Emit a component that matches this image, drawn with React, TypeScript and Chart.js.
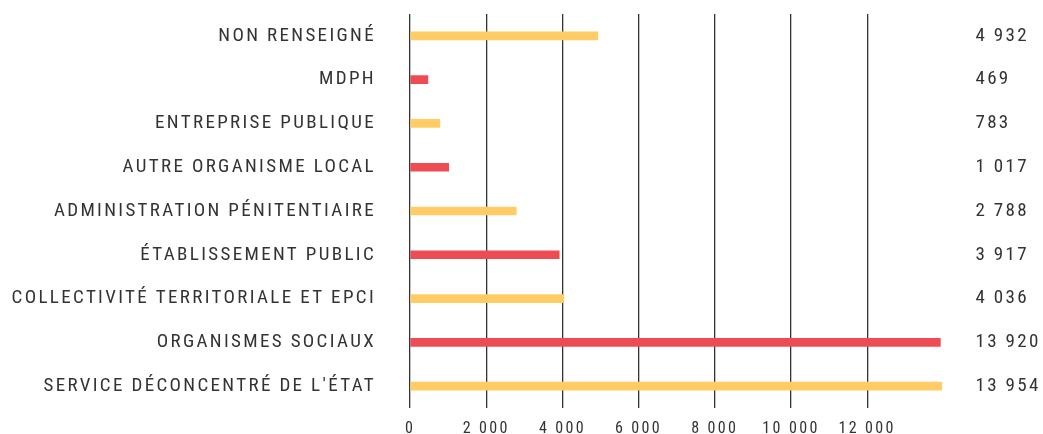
import React, { useEffect, useRef } from "react";
import { Chart, registerables } from "chart.js";

Chart.register(...registerables);

const categories = [
  "NON RENSEIGNÉ",
  "MDPH",
  "ENTREPRISE PUBLIQUE",
  "AUTRE ORGANISME LOCAL",
  "ADMINISTRATION PÉNITENTIAIRE",
  "ÉTABLISSEMENT PUBLIC",
  "COLLECTIVITÉ TERRITORIALE ET EPCI",
  "ORGANISMES SOCIAUX",
  "SERVICE DÉCONCENTRÉ DE L'ÉTAT",
];

const values = [4932, 469, 783, 1017, 2788, 3917, 4036, 13920, 13954];

const xTickValues = [0, 2000, 4000, 6000, 8000, 10000, 12000];

const YELLOW = "#FFCC66";
const RED = "#EE4C54";
const FONT = "'Roboto Condensed', 'Roboto', sans-serif";
const SPACING = "2.35px";

const fmt = (v: number) => String(v).replace(/\B(?=(\d{3})+(?!\d))/g, " ");

const spacingPlugin = {
  id: "letterSpacing",
  beforeUpdate(chart: any) {
    chart.ctx.letterSpacing = SPACING;
  },
  beforeLayout(chart: any) {
    chart.ctx.letterSpacing = SPACING;
  },
  beforeDraw(chart: any) {
    chart.ctx.letterSpacing = SPACING;
  },
};

const noPad = (s: any) => {
  s.paddingTop = 0;
  s.paddingBottom = 0;
  s.paddingLeft = 0;
  s.paddingRight = 0;
};

export default function App() {
  const ref = useRef<HTMLCanvasElement>(null);
  useEffect(() => {
    document.body.style.margin = "0";
    const chart = new Chart(ref.current!, {
      type: "bar",
      data: {
        labels: categories,
        datasets: [
          {
            data: values,
            backgroundColor: (c: any) => (c.dataIndex % 2 === 0 ? YELLOW : RED),
            barThickness: 8,
            borderWidth: 0,
          },
        ],
      },
      plugins: [spacingPlugin],
      options: {
        indexAxis: "y",
        animation: false,
        responsive: true,
        maintainAspectRatio: false,
        layout: { padding: { top: 14, left: 0, right: 0, bottom: 0 } },
        plugins: { legend: { display: false }, tooltip: { enabled: false } },
        scales: {
          x: {
            type: "linear",
            min: 0,
            max: 14000,
            afterBuildTicks: (s: any) => {
              s.ticks = xTickValues.map((v) => ({ value: v }));
            },
            afterFit: (s: any) => {
              s.height = 26;
              noPad(s);
            },
            grid: { color: "#333", lineWidth: 1.3, drawTicks: false },
            border: { display: false },
            ticks: {
              padding: 11,
              color: "#333",
              font: { family: FONT, size: 16 },
              callback: (v: any) => fmt(Number(v)),
              maxRotation: 0,
              autoSkip: false,
            },
          },
          y: {
            position: "left",
            afterFit: (s: any) => {
              s.width = 410;
              noPad(s);
            },
            grid: { display: false, drawTicks: false },
            border: { display: false },
            ticks: {
              padding: 34,
              color: "#333",
              font: { family: FONT, size: 19 },
            },
          },
          y2: {
            type: "category",
            position: "right",
            labels: values.map(fmt),
            offset: true,
            afterFit: (s: any) => {
              s.width = 99.6;
              noPad(s);
            },
            grid: { display: false, drawTicks: false },
            border: { display: false },
            ticks: {
              padding: 32,
              color: "#333",
              font: { family: FONT, size: 19 },
            },
          },
        },
      },
    } as any);
    return () => chart.destroy();
  }, []);
  return (
    <div style={{ position: "relative", width: 1043, height: 434 }}>
      <canvas ref={ref} />
    </div>
  );
}
